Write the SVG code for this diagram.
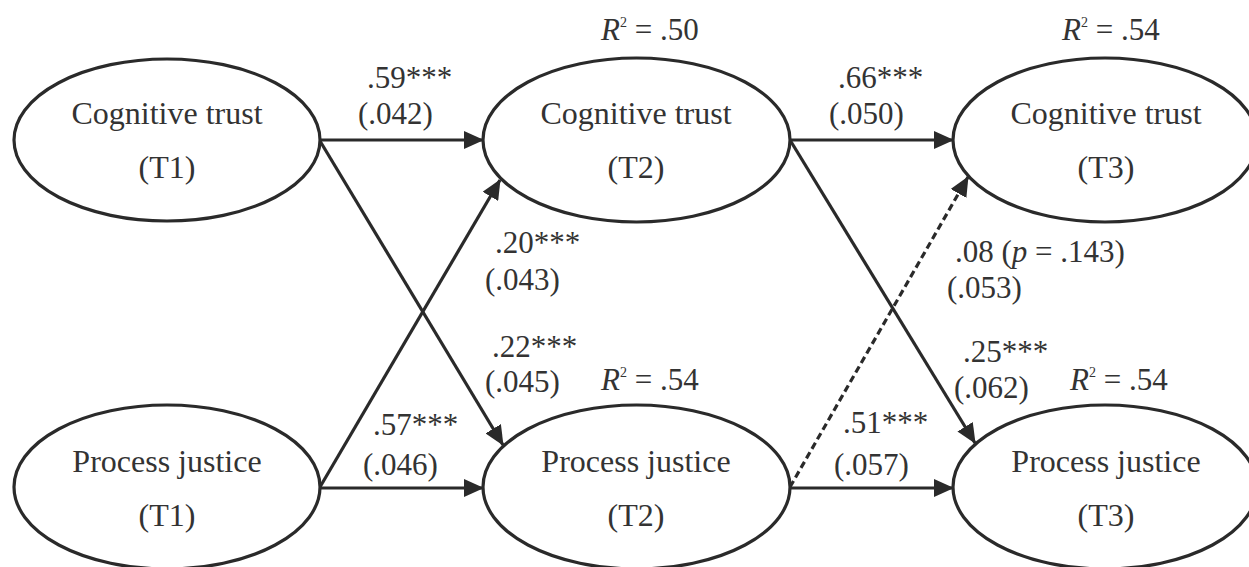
<svg xmlns="http://www.w3.org/2000/svg" width="1249" height="567" viewBox="0 0 1249 567">
<style>
.node ellipse{fill:#fff;stroke:#2a2a2a;stroke-width:3.2}
.nt{font-family:"Liberation Serif","Times New Roman",serif;font-size:32px;fill:#333;text-anchor:middle}
.lb{font-family:"Liberation Serif","Times New Roman",serif;font-size:31px;fill:#333}
.sup{font-size:14px}
.edge{stroke:#2a2a2a;stroke-width:3.2;fill:none}
.dash{stroke-dasharray:7 4}
</style>
<defs>
<marker id="ah" markerUnits="userSpaceOnUse" markerWidth="20" markerHeight="18" refX="19" refY="9" orient="auto">
<path d="M0,0 L20,9 L0,18 z" fill="#2a2a2a"/>
</marker>
</defs>
<rect width="1249" height="567" fill="#fff"/>
<g id="connectors">
<line class="edge" x1="320" y1="140" x2="483" y2="140" marker-end="url(#ah)"/>
<line class="edge" x1="320" y1="141" x2="503" y2="445" marker-end="url(#ah)"/>
<line class="edge" x1="320" y1="487" x2="500" y2="180" marker-end="url(#ah)"/>
<line class="edge" x1="320" y1="488" x2="483" y2="488" marker-end="url(#ah)"/>
<line class="edge" x1="790" y1="140" x2="953" y2="140" marker-end="url(#ah)"/>
<line class="edge" x1="790" y1="140" x2="975" y2="443" marker-end="url(#ah)"/>
<line class="edge dash" x1="790" y1="487" x2="968" y2="177" marker-end="url(#ah)"/>
<line class="edge" x1="790" y1="488" x2="953" y2="488" marker-end="url(#ah)"/>
</g>
<g id="ct1" class="node"><ellipse cx="167" cy="140" rx="153" ry="81"/><text class="nt" x="167" y="124">Cognitive trust</text><text class="nt" x="167" y="178">(T1)</text></g>
<g id="ct2" class="node"><ellipse cx="636.5" cy="140" rx="153.5" ry="82"/><text class="nt" x="636" y="124">Cognitive trust</text><text class="nt" x="636" y="178">(T2)</text></g>
<g id="ct3" class="node"><ellipse cx="1105" cy="140" rx="152" ry="82"/><text class="nt" x="1106" y="124">Cognitive trust</text><text class="nt" x="1106" y="178">(T3)</text></g>
<g id="pj1" class="node"><ellipse cx="167" cy="487" rx="153" ry="82"/><text class="nt" x="167" y="472">Process justice</text><text class="nt" x="167" y="526">(T1)</text></g>
<g id="pj2" class="node"><ellipse cx="636.5" cy="487" rx="153.5" ry="82"/><text class="nt" x="636" y="472">Process justice</text><text class="nt" x="636" y="526">(T2)</text></g>
<g id="pj3" class="node"><ellipse cx="1105" cy="487" rx="152" ry="82"/><text class="nt" x="1106" y="472">Process justice</text><text class="nt" x="1106" y="526">(T3)</text></g>
<g id="labels">
<text class="lb" x="367" y="88">.59***</text><text class="lb" x="358" y="124">(.042)</text>
<text class="lb" x="838" y="88">.66***</text><text class="lb" x="829" y="124">(.050)</text>
<text class="lb" x="601" y="40"><tspan font-style="italic">R</tspan><tspan class="sup" dy="-13">2</tspan><tspan dy="13"> = .50</tspan></text>
<text class="lb" x="1062" y="40"><tspan font-style="italic">R</tspan><tspan class="sup" dy="-13">2</tspan><tspan dy="13"> = .54</tspan></text>
<text class="lb" x="495" y="253">.20***</text><text class="lb" x="485" y="290">(.043)</text>
<text class="lb" x="492" y="357">.22***</text><text class="lb" x="485" y="392">(.045)</text>
<text class="lb" x="601" y="390"><tspan font-style="italic">R</tspan><tspan class="sup" dy="-13">2</tspan><tspan dy="13"> = .54</tspan></text>
<text class="lb" x="373" y="435">.57***</text><text class="lb" x="363" y="475">(.046)</text>
<text class="lb" x="843" y="433">.51***</text><text class="lb" x="834" y="475">(.057)</text>
<text class="lb" x="955" y="262">.08 (<tspan font-style="italic">p</tspan> = .143)</text><text class="lb" x="947" y="298">(.053)</text>
<text class="lb" x="963" y="362">.25***</text><text class="lb" x="954" y="398">(.062)</text>
<text class="lb" x="1070" y="390"><tspan font-style="italic">R</tspan><tspan class="sup" dy="-13">2</tspan><tspan dy="13"> = .54</tspan></text>
</g>
</svg>
